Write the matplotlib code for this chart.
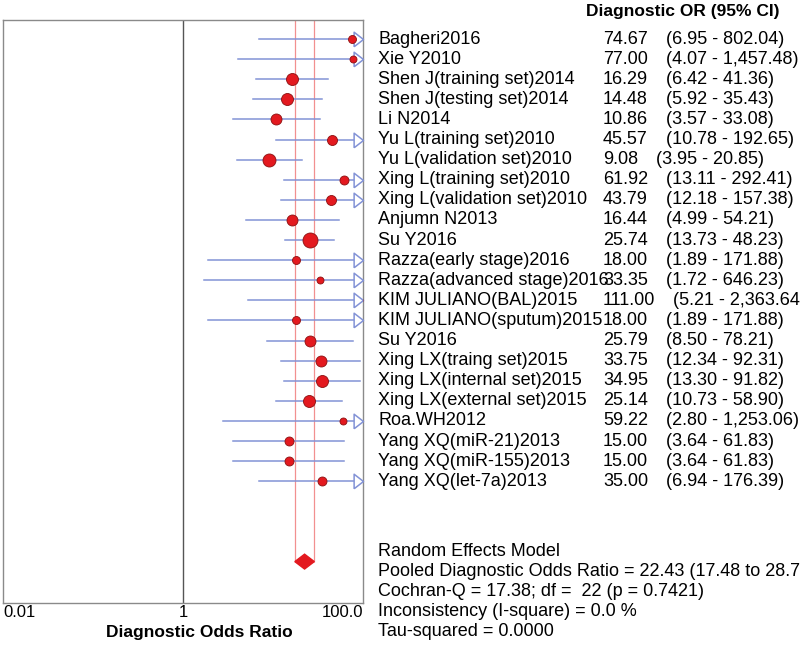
#!/usr/bin/env python3
"""Forest plot of diagnostic odds ratios (Meta-DiSc style)."""

import matplotlib

matplotlib.use("Agg")
import matplotlib.pyplot as plt
import matplotlib.transforms as mtransforms

plt.rcParams["font.family"] = ["Liberation Sans", "DejaVu Sans"]

STUDIES = [
    "Bagheri2016", "Xie Y2010", "Shen J(training set)2014", "Shen J(testing set)2014",
    "Li N2014", "Yu L(training set)2010", "Yu L(validation set)2010",
    "Xing L(training set)2010", "Xing L(validation set)2010", "Anjumn N2013", "Su Y2016",
    "Razza(early stage)2016", "Razza(advanced stage)2016", "KIM JULIANO(BAL)2015",
    "KIM JULIANO(sputum)2015", "Su Y2016", "Xing LX(traing set)2015",
    "Xing LX(internal set)2015", "Xing LX(external set)2015", "Roa.WH2012",
    "Yang XQ(miR-21)2013", "Yang XQ(miR-155)2013", "Yang XQ(let-7a)2013",
]
DOR = [74.67, 77.00, 16.29, 14.48, 10.86, 45.57, 9.08, 61.92, 43.79, 16.44, 25.74,
       18.00, 33.35, 111.00, 18.00, 25.79, 33.75, 34.95, 25.14, 59.22, 15.00, 15.00, 35.00]
CI_LOW = [6.95, 4.07, 6.42, 5.92, 3.57, 10.78, 3.95, 13.11, 12.18, 4.99, 13.73,
          1.89, 1.72, 5.21, 1.89, 8.50, 12.34, 13.30, 10.73, 2.80, 3.64, 3.64, 6.94]
CI_HIGH = [802.04, 1457.48, 41.36, 35.43, 33.08, 192.65, 20.85, 292.41, 157.38, 54.21,
           48.23, 171.88, 646.23, 2363.64, 171.88, 78.21, 92.31, 91.82, 58.90, 1253.06,
           61.83, 61.83, 176.39]
# relative study weights (drive marker size)
WEIGHTS = [8, 7, 12, 12, 11, 10, 13, 9, 10, 11, 15, 8, 7, 7, 8, 11, 11, 12, 12, 7, 9, 9, 9]

POOLED = 22.43
POOLED_LOW = 17.48
POOLED_HIGH = 28.78
SUMMARY_LINES = [
    "Random Effects Model",
    "Pooled Diagnostic Odds Ratio = 22.43 (17.48 to 28.78)",
    "Cochran-Q = 17.38; df =  22 (p = 0.7421)",
    "Inconsistency (I-square) = 0.0 %",
    "Tau-squared = 0.0000",
]
X_TICKS = [0.01, 1, 100]
X_TICK_LABELS = ["0.01", "1", "100.0"]

W, H = 800, 645
BLUE = "#8393d6"
RED = "#e3191f"
PINK = "#f29090"


def main() -> None:
    fig = plt.figure(figsize=(W / 100, H / 100), dpi=100)
    ax = fig.add_axes([3 / W, 42 / H, 360 / W, 583 / H])
    ax.set_xscale("log")
    ax.set_xlim(0.01, 100)
    ax.set_ylim(28.06, -0.95)

    xmax = 100.0
    arrow = [(-1.29, -1), (0, 0), (-1.29, 1), (-1.29, -1)]

    for i, (est, lo, hi, w) in enumerate(zip(DOR, CI_LOW, CI_HIGH, WEIGHTS)):
        ax.plot([lo, min(hi, xmax)], [i, i], color=BLUE, lw=1.1, zorder=2)
        if hi > xmax:
            ax.plot([xmax], [i], marker=arrow, ms=13.5, mfc="white", mec=BLUE,
                    mew=1.1, clip_on=False, zorder=3)
        ax.plot([est], [i], marker="o", ms=w * 0.72, mfc=RED, mec="#8b1010",
                mew=0.6, zorder=4)

    ydiam = 26
    ax.vlines([POOLED_LOW, POOLED_HIGH], -0.95, ydiam, color=PINK, lw=0.9, zorder=1)
    ax.fill([POOLED_LOW, POOLED, POOLED_HIGH, POOLED],
            [ydiam, ydiam - 0.37, ydiam, ydiam + 0.37], color=RED, zorder=5)

    ax.axvline(1, color="#555555", lw=1.0, zorder=1)
    for sp in ax.spines.values():
        sp.set_color("#8a8a8a")
        sp.set_linewidth(1.0)
    ax.set_yticks([])
    ax.set_xticks(X_TICKS)
    ax.set_xticklabels(X_TICK_LABELS, fontsize=12)
    ax.xaxis.set_minor_locator(matplotlib.ticker.NullLocator())
    ax.tick_params(axis="x", length=0, pad=1.5)
    labels = ax.get_xticklabels()
    labels[0].set_ha("left")
    labels[-1].set_ha("right")

    fig.text(199 / W, 1 - 633 / H, "Diagnostic Odds Ratio", fontsize=12.5,
             fontweight="bold", ha="center", va="center")

    trans = mtransforms.blended_transform_factory(fig.transFigure, ax.transData)
    ax.text(586 / W, -1.35, "Diagnostic OR (95% CI)", transform=trans, fontsize=12.5,
            fontweight="bold", va="center", clip_on=False)
    for i, (name, est, lo, hi) in enumerate(zip(STUDIES, DOR, CI_LOW, CI_HIGH)):
        ax.text(378 / W, i, name, transform=trans, fontsize=13, va="center", clip_on=False)
        val = ax.text(603 / W, i, f"{est:.2f}", transform=trans, fontsize=13,
                      va="center", clip_on=False)
        ax.annotate(f"({lo:,.2f} - {hi:,.2f})", xy=(1, 0.5), xycoords=val,
                    xytext=(13, 0), textcoords="offset points", fontsize=13,
                    va="center", annotation_clip=False)
    for k, line in enumerate(SUMMARY_LINES):
        ax.text(378 / W, 25.5 + k, line, transform=trans, fontsize=13, va="center",
                clip_on=False)

    fig.savefig("out.png", dpi=100)


if __name__ == "__main__":
    main()
